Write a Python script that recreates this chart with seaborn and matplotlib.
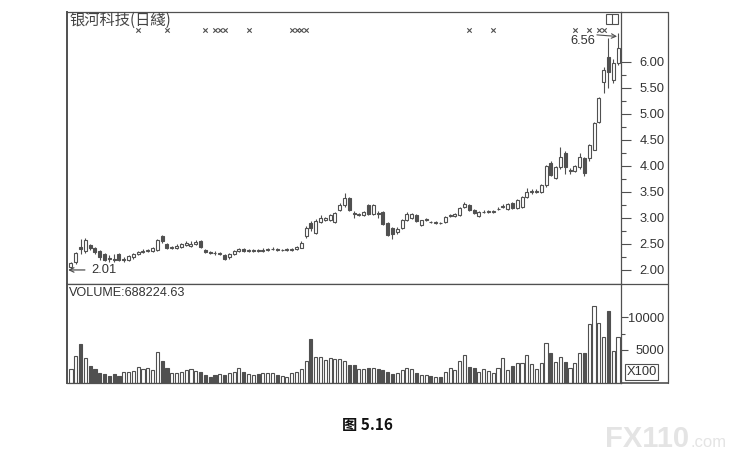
import numpy as np
import pandas as pd
import matplotlib
matplotlib.use("Agg")
import matplotlib.pyplot as plt
from matplotlib.lines import Line2D
from matplotlib.patches import Rectangle
import seaborn as sns

# ---------------- data ----------------
opens = [2.06, 2.15, 2.45, 2.36, 2.48, 2.43, 2.36, 2.30, 2.23, 2.22,
         2.30, 2.20, 2.20, 2.24, 2.31, 2.35, 2.36, 2.36, 2.38, 2.65,
         2.50, 2.43, 2.42, 2.45, 2.48, 2.47, 2.50, 2.56, 2.38, 2.34,
         2.33, 2.31, 2.29, 2.24, 2.30, 2.36, 2.40, 2.37, 2.37, 2.38,
         2.37, 2.38, 2.40, 2.40, 2.38, 2.38, 2.39, 2.41, 2.43, 2.65,
         2.90, 2.72, 2.92, 2.97, 2.96, 2.92, 3.15, 3.25, 3.38, 3.10,
         3.06, 3.06, 3.25, 3.07, 3.10, 3.12, 2.90, 2.80, 2.73, 2.80,
         2.96, 3.00, 3.06, 2.87, 2.97, 2.93, 2.91, 2.91, 2.92, 3.04,
         3.04, 3.06, 3.21, 3.25, 3.15, 3.04, 3.11, 3.12, 3.12, 3.17,
         3.22, 3.17, 3.28, 3.19, 3.21, 3.40, 3.50, 3.50, 3.50, 3.63,
         4.06, 3.77, 3.98, 4.25, 3.90, 3.90, 3.98, 4.15, 4.15, 4.31,
         4.85, 5.62, 6.10, 5.65, 5.98]
highs = [2.15, 2.35, 2.60, 2.62, 2.50, 2.45, 2.38, 2.33, 2.28, 2.30,
         2.32, 2.25, 2.28, 2.33, 2.37, 2.40, 2.41, 2.44, 2.60, 2.68,
         2.52, 2.47, 2.50, 2.52, 2.55, 2.55, 2.57, 2.58, 2.40, 2.37,
         2.36, 2.35, 2.30, 2.33, 2.38, 2.42, 2.42, 2.40, 2.41, 2.40,
         2.42, 2.43, 2.44, 2.42, 2.41, 2.42, 2.43, 2.46, 2.55, 2.85,
         2.95, 2.98, 3.05, 3.02, 3.08, 3.12, 3.28, 3.48, 3.40, 3.14,
         3.10, 3.14, 3.27, 3.26, 3.14, 3.14, 2.92, 2.82, 2.82, 2.98,
         3.12, 3.09, 3.08, 2.97, 3.00, 2.95, 2.94, 2.93, 3.04, 3.08,
         3.10, 3.22, 3.30, 3.27, 3.17, 3.14, 3.15, 3.16, 3.16, 3.21,
         3.26, 3.29, 3.30, 3.37, 3.42, 3.58, 3.55, 3.55, 3.65, 4.02,
         4.10, 4.00, 4.36, 4.28, 3.96, 4.02, 4.25, 4.18, 4.42, 4.85,
         5.33, 5.90, 6.46, 6.05, 6.56]
lows = [2.01, 2.12, 2.30, 2.32, 2.38, 2.30, 2.20, 2.17, 2.16, 2.15,
        2.18, 2.16, 2.18, 2.22, 2.29, 2.33, 2.34, 2.34, 2.36, 2.52,
        2.40, 2.40, 2.40, 2.43, 2.46, 2.45, 2.48, 2.43, 2.32, 2.30,
        2.29, 2.28, 2.19, 2.22, 2.28, 2.34, 2.35, 2.35, 2.35, 2.35,
        2.35, 2.36, 2.38, 2.36, 2.36, 2.36, 2.37, 2.39, 2.42, 2.62,
        2.75, 2.70, 2.90, 2.94, 2.94, 2.90, 3.13, 3.22, 3.13, 3.00,
        3.03, 3.04, 3.05, 3.05, 3.00, 2.86, 2.66, 2.60, 2.70, 2.78,
        2.94, 2.98, 2.92, 2.85, 2.95, 2.90, 2.89, 2.88, 2.90, 3.02,
        3.02, 3.04, 3.20, 3.13, 3.08, 3.02, 3.09, 3.10, 3.10, 3.15,
        3.20, 3.15, 3.18, 3.17, 3.19, 3.38, 3.47, 3.48, 3.48, 3.60,
        3.80, 3.75, 3.95, 3.85, 3.85, 3.88, 3.95, 3.80, 4.10, 4.30,
        4.83, 5.40, 5.50, 5.60, 5.95]
closes = [2.13, 2.33, 2.40, 2.57, 2.43, 2.34, 2.24, 2.20, 2.21, 2.20,
          2.20, 2.22, 2.26, 2.30, 2.35, 2.37, 2.39, 2.42, 2.58, 2.55,
          2.42, 2.44, 2.47, 2.49, 2.52, 2.50, 2.53, 2.45, 2.35, 2.33,
          2.32, 2.32, 2.22, 2.31, 2.36, 2.40, 2.37, 2.38, 2.39, 2.37,
          2.39, 2.40, 2.41, 2.38, 2.39, 2.40, 2.41, 2.44, 2.52, 2.80,
          2.80, 2.95, 3.00, 2.99, 3.06, 3.10, 3.25, 3.38, 3.15, 3.07,
          3.08, 3.12, 3.08, 3.24, 3.08, 2.88, 2.68, 2.70, 2.79, 2.96,
          3.08, 3.07, 2.94, 2.96, 2.98, 2.92, 2.92, 2.90, 3.02, 3.05,
          3.08, 3.19, 3.27, 3.15, 3.10, 3.12, 3.12, 3.13, 3.14, 3.18,
          3.23, 3.27, 3.20, 3.35, 3.40, 3.50, 3.52, 3.51, 3.63, 4.00,
          3.83, 3.98, 4.17, 3.98, 3.93, 4.00, 4.17, 3.87, 4.40, 4.83,
          5.31, 5.85, 5.80, 5.98, 6.27]
volumes = [2070, 4090, 5860, 3740, 2575, 2070, 1565, 1360, 1110, 1310,
           1110, 1615, 1715, 1820, 2370, 2070, 2220, 1970, 4645, 3330,
           2220, 1465, 1465, 1615, 1970, 2070, 1870, 1715, 1210, 960,
           1210, 1360, 1210, 1465, 1715, 2220, 1715, 1360, 1210, 1310,
           1465, 1565, 1465, 1210, 1060, 960, 1465, 1715, 2070, 3380,
           6620, 3990, 3990, 3485, 3840, 3585, 3635, 3330, 2730, 2730,
           2070, 2070, 2220, 2320, 2070, 1970, 1715, 1310, 1465, 1970,
           2220, 2070, 1465, 1210, 1210, 1110, 960, 960, 1715, 2220,
           1970, 3330, 4240, 2370, 2220, 1715, 2070, 1820, 1565, 2220,
           3740, 1970, 2575, 3080, 2980, 4240, 2830, 2070, 3080, 6110,
           4490, 3230, 3990, 3230, 2220, 2980, 4490, 4490, 8890, 11665,
           9140, 7020, 10960, 4900, 6920]
marker_days = [14, 20, 28, 30, 31, 32, 37, 46, 47, 48, 49, 83, 88, 105, 108, 110, 111]
price_ticks = [2.0, 2.5, 3.0, 3.5, 4.0, 4.5, 5.0, 5.5, 6.0]
price_tick_labels = ["2.00", "2.50", "3.00", "3.50", "4.00", "4.50", "5.00", "5.50", "6.00"]
price_minor_ticks = [2.25, 2.75, 3.25, 3.75, 4.25, 4.75, 5.25, 5.75]
volume_ticks = [5000, 10000]
volume_tick_labels = ["5000", "10000"]
volume_minor_ticks = [7500]
title_text = "银河科技(日綫)"
volume_text = "VOLUME:688224.63"
low_text = "2.01"
high_text = "6.56"
unit_text = "X100"
caption_text = "图 5.16"

# ---------------- style ----------------
sns.set_theme(style="white")
plt.rcParams['font.family'] = ['Liberation Sans', 'Noto Sans CJK SC', 'DejaVu Sans']
EDGE = '#505050'
TXT = '#333333'

W, H = 734, 459
fig = plt.figure(figsize=(W / 100, H / 100), dpi=100)
L, R, T, MID, B, RR = 67, 621, 12, 284, 383, 668
axp = fig.add_axes([L / W, 1 - MID / H, (R - L) / W, (MID - T) / H])
axv = fig.add_axes([L / W, 1 - B / H, (R - L) / W, (B - MID) / H])

n = len(closes)
days = np.arange(n)
o = np.array(opens); c = np.array(closes); hi = np.array(highs); lo = np.array(lows)
up = c >= o
body_lo = np.minimum(o, c)
body_hi = np.maximum(o, c)
body_h = np.maximum(body_hi - body_lo, 0.008)

# ---------------- candles ----------------
axp.vlines(days, lo, body_lo, color=EDGE, lw=0.8, zorder=2)
axp.vlines(days, body_hi, hi, color=EDGE, lw=0.8, zorder=2)
axp.bar(days, body_h, bottom=body_lo, width=0.62,
        color=np.where(up, 'white', EDGE), edgecolor=EDGE, linewidth=0.8, zorder=3)

# markers
marker_df = pd.DataFrame({'day': marker_days, 'y': [6.62] * len(marker_days)})
sns.scatterplot(data=marker_df, x='day', y='y', marker='x', s=10, color=EDGE,
                linewidth=0.8, ax=axp, legend=False, zorder=4)

axp.set_xlim(-0.83, n - 0.38)
axp.set_ylim(1.73, 6.96)
axp.set_xticks([])
axp.set_xlabel('')
axp.set_ylabel('')
axp.yaxis.tick_right()
axp.set_yticks(price_ticks)
axp.set_yticklabels(price_tick_labels)
axp.set_yticks(price_minor_ticks, minor=True)
axp.tick_params(axis='y', which='major', direction='out', length=7, width=0.8,
                color=EDGE, labelsize=9.3, labelcolor=TXT, pad=24.5, right=True, left=False)
axp.tick_params(axis='y', which='minor', direction='out', length=3.5, width=0.8,
                color=EDGE, right=True, left=False)
plt.setp(axp.get_yticklabels(), ha='right')

# low marker: arrow + value
axp.annotate('', xy=(-0.6, 2.0), xytext=(2.9, 2.0),
             arrowprops=dict(arrowstyle='->', color=EDGE, lw=0.9, shrinkA=0, shrinkB=0,
                             mutation_scale=8))
axp.text(4.3, 2.0, low_text, ha='left', va='center', fontsize=9.3, color=TXT)
axp.text(104.0, 6.41, high_text, ha='left', va='center', fontsize=9.3, color=TXT)
axp.annotate('', xy=(113.8, 6.49), xytext=(109.6, 6.52),
             arrowprops=dict(arrowstyle='->', color=EDGE, lw=0.8, shrinkA=0, shrinkB=0,
                             mutation_scale=8))

# ---------------- volume ----------------
vol_df = pd.DataFrame({'day': days, 'vol': volumes})
sns.barplot(data=vol_df, x='day', y='vol', color='white', width=0.65,
            edgecolor=EDGE, linewidth=0.8, errorbar=None, ax=axv)
for patch, is_up in zip(axv.patches, up):
    patch.set_facecolor('white' if is_up else EDGE)
    patch.set_edgecolor(EDGE)
axv.set_xlim(-0.83, n - 0.38)
axv.set_ylim(0, 15000)
axv.set_xticks([])
axv.set_xlabel('')
axv.set_ylabel('')
axv.yaxis.tick_right()
axv.set_yticks(volume_ticks)
axv.set_yticklabels(volume_tick_labels)
axv.set_yticks(volume_minor_ticks, minor=True)
axv.tick_params(axis='y', which='major', direction='out', length=5, width=0.8,
                color=EDGE, labelsize=9.3, labelcolor=TXT, pad=26, right=True, left=False)
axv.tick_params(axis='y', which='minor', direction='out', length=3, width=0.8,
                color=EDGE, right=True, left=False)
plt.setp(axv.get_yticklabels(), ha='right')

for ax in (axp, axv):
    for side, sp in ax.spines.items():
        sp.set_color(EDGE)
        sp.set_linewidth(0.9)
        sp.set_visible(True)
    ax.spines['left'].set_linewidth(1.4)
    ax.grid(False)
    ax.set_facecolor('white')

# outer frame for the label column
def fline(x0, y0, x1, y1, lw=0.9):
    fig.add_artist(Line2D([x0 / W, x1 / W], [1 - y0 / H, 1 - y1 / H],
                          transform=fig.transFigure, color=EDGE, lw=lw))

fline(R, T, RR, T)
fline(R, MID, RR, MID)
fline(R, B, RR, B, lw=1.2)
fline(RR, T, RR, B)

# small split-box icon
fig.add_artist(Rectangle((606 / W, 1 - 24 / H), 12 / W, 10 / H, transform=fig.transFigure,
                         fill=False, ec=EDGE, lw=0.8))
fline(612, 14, 612, 24, lw=0.8)

# texts
fig.text(69 / W, 1 - 12 / H, title_text, ha='left', va='top', fontsize=11, color='#444444',
         family=['Noto Sans CJK SC', 'DejaVu Sans'])
fig.text(69 / W, 1 - 287 / H, volume_text, ha='left', va='top', fontsize=9.1, color=TXT)
fig.text(641.5 / W, 1 - 372 / H, unit_text, ha='center', va='center', fontsize=9.3, color=TXT,
         bbox=dict(boxstyle='square,pad=0.12', fc='white', ec=EDGE, lw=0.8))
fig.text(367 / W, 1 - 425 / H, caption_text, ha='center', va='center', fontsize=11,
         fontweight='bold', color='#111111', family=['Noto Sans CJK SC', 'DejaVu Sans'])
fig.text(605 / W, 1 - 447 / H, "FX110", ha='left', va='baseline', fontsize=21,
         fontweight='bold', color='#e4e4e4')
fig.text(690 / W, 1 - 447 / H, ".com", ha='left', va='baseline', fontsize=12,
         color='#e4e4e4')

fig.savefig('out.png', dpi=100, facecolor='white')
